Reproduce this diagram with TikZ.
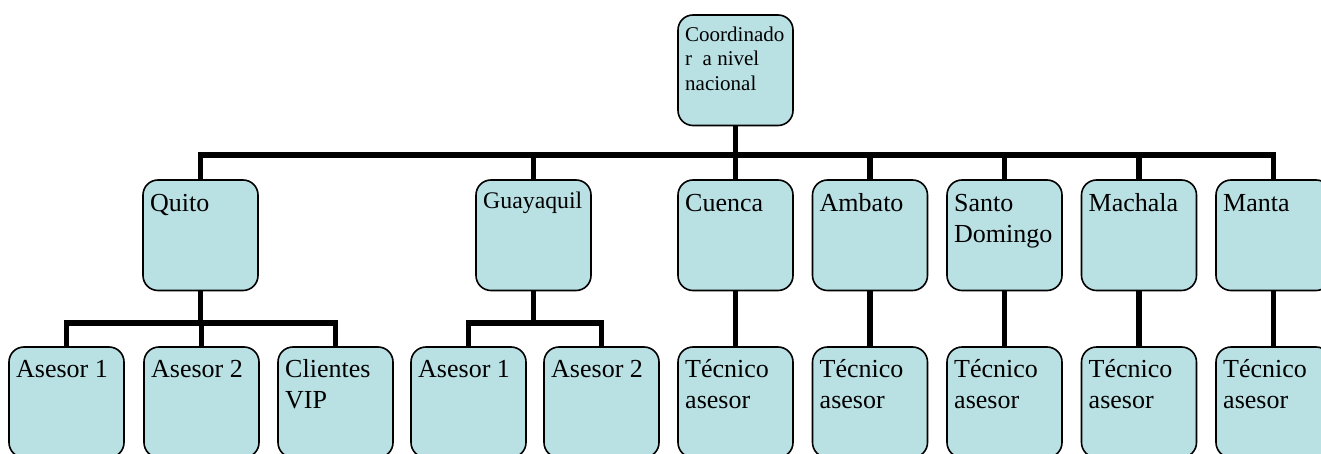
\documentclass[tikz,border=0pt]{standalone}
\usepackage{fontspec}
\setmainfont{Liberation Serif}
\definecolor{boxfill}{RGB}{185,224,227}
\tikzset{
  orgbox/.style={draw=black, line width=1.6pt, fill=boxfill, rounded corners=15pt,
    minimum width=115pt, minimum height=110.5pt, inner sep=0pt, outer sep=0pt,
    anchor=north west},
  lbl/.style={anchor=north west, inner xsep=7pt, inner ysep=10pt, align=left,
    font=\fontsize{26}{30.5}\selectfont},
  lblb/.style={lbl, inner ysep=9pt},
  lbltop/.style={lbl, inner ysep=9pt, font=\fontsize{21}{24.5}\selectfont},
  lblg/.style={lbl, inner ysep=9pt, font=\fontsize{23.8}{27.5}\selectfont},
  conn/.style={draw=black, line width=5.5pt, line join=miter, line cap=butt}
}
\newcommand\orgnode[4][lbl]{%
  \node[orgbox] (#2) at (#3) {};
  \node[#1] (#2-t) at (#2.north west) {\strut #4};}
\begin{document}
\begin{tikzpicture}[x=1pt,y=1pt]
\useasboundingbox (0,0) rectangle (1321,453);
\clip (0,0) rectangle (1321,453);
% top
\orgnode[lbltop]{top}{678,438}{Coordinado\\r\ \ a nivel\\nacional}
% level 2
\orgnode{quito}{143,273}{Quito}
\orgnode[lblg]{guay}{476,273}{Guayaquil}
\orgnode{cuenca}{678,273}{Cuenca}
\orgnode{ambato}{812.5,273}{Ambato}
\orgnode{santo}{947,273}{Santo\\Domingo}
\orgnode{machala}{1081.5,273}{Machala}
\orgnode{manta}{1216,273}{Manta}
% level 3
\orgnode[lblb]{qa1}{9,106}{Asesor 1}
\orgnode[lblb]{qa2}{144,106}{Asesor 2}
\orgnode[lblb]{qvip}{278,106}{Clientes\\VIP}
\orgnode[lblb]{ga1}{411,106}{Asesor 1}
\orgnode[lblb]{ga2}{544,106}{Asesor 2}
\orgnode[lblb]{tcue}{678,106}{Técnico\\asesor}
\orgnode[lblb]{tamb}{812.5,106}{Técnico\\asesor}
\orgnode[lblb]{tsan}{947,106}{Técnico\\asesor}
\orgnode[lblb]{tmac}{1081.5,106}{Técnico\\asesor}
\orgnode[lblb]{tman}{1216,106}{Técnico\\asesor}
% buses
\coordinate (bus) at (0,298);
\coordinate (sbus) at (0,130);
% main connectors
\draw[conn] (top.south) -- (top.south |- bus);
\draw[conn] (quito.north) -- (quito.north |- bus) -- (manta.north |- bus) -- (manta.north);
\draw[conn] (guay.north) -- (guay.north |- bus);
\draw[conn] (cuenca.north) -- (cuenca.north |- bus);
\draw[conn] (ambato.north) -- (ambato.north |- bus);
\draw[conn] (santo.north) -- (santo.north |- bus);
\draw[conn] (machala.north) -- (machala.north |- bus);
% Quito branch
\draw[conn] (quito.south) -- (quito.south |- sbus);
\draw[conn] (qa1.north) -- (qa1.north |- sbus) -- (qvip.north |- sbus) -- (qvip.north);
\draw[conn] (qa2.north) -- (qa2.north |- sbus);
% Guayaquil branch
\draw[conn] (guay.south) -- (guay.south |- sbus);
\draw[conn] (ga1.north) -- (ga1.north |- sbus) -- (ga2.north |- sbus) -- (ga2.north);
% single branches
\draw[conn] (cuenca.south) -- (tcue.north);
\draw[conn] (ambato.south) -- (tamb.north);
\draw[conn] (santo.south) -- (tsan.north);
\draw[conn] (machala.south) -- (tmac.north);
\draw[conn] (manta.south) -- (tman.north);
\end{tikzpicture}
\end{document}
